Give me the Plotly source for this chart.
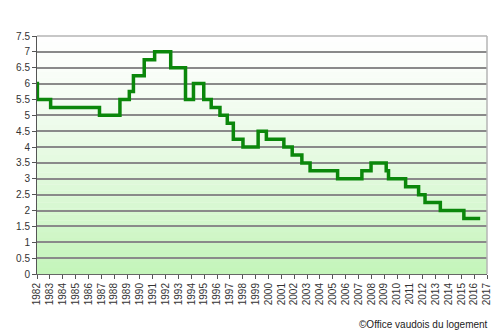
import plotly.graph_objects as go

# Step dates (decimal years) and rate values (%)
dates = [1982.0, 1982.03, 1983.06, 1986.86, 1988.45, 1989.18, 1989.5, 1990.34,
         1991.15, 1992.4, 1993.55, 1994.17, 1994.97, 1995.55, 1996.23, 1996.8,
         1997.27, 1998.02, 1999.2, 1999.84, 2001.2, 2001.85, 2002.6, 2003.24,
         2005.38, 2007.27, 2007.98, 2009.16, 2009.34, 2010.67, 2011.68, 2012.18,
         2013.37, 2015.2, 2016.47]
rates = [6.0, 5.5, 5.25, 5.0, 5.5, 5.75, 6.25, 6.75,
         7.0, 6.5, 5.5, 6.0, 5.5, 5.25, 5.0, 4.75,
         4.25, 4.0, 4.5, 4.25, 4.0, 3.75, 3.5, 3.25,
         3.0, 3.25, 3.5, 3.25, 3.0, 2.75, 2.5, 2.25,
         2.0, 1.75, 1.75]
year_ticks = list(range(1982, 2018))
y_ticks = [i * 0.5 for i in range(16)]
credit = "©Office vaudois du logement"

fig = go.Figure()
fig.add_trace(go.Scatter(x=dates, y=rates, mode="lines", line_shape="hv",
                         line=dict(color="#0b870b", width=3.5), hoverinfo="skip"))

# gradient background bands
shapes = []
n = 40
for i in range(n):
    t = i / n  # 0 at bottom
    f = (1 - t) ** 1.3
    r = int(255 - 58 * f)
    g = int(255 - 10 * f)
    b = int(255 - 68 * f)
    shapes.append(dict(type="rect", xref="x domain", yref="y domain",
                       x0=0, x1=1, y0=t, y1=t + 1 / n + 0.001,
                       fillcolor=f"rgb({r},{g},{b})", line=dict(width=0),
                       layer="below"))
shapes.append(dict(type="line", xref="x domain", yref="y domain", x0=1, x1=1,
                   y0=0, y1=1, line=dict(color="#b4b4b4", width=1.5)))
shapes.append(dict(type="line", xref="x domain", yref="y domain", x0=0, x1=1,
                   y0=1, y1=1, line=dict(color="#b4b4b4", width=1.5)))

fig.update_layout(
    width=492, height=326,
    margin=dict(l=21, r=8, t=28, b=60),
    paper_bgcolor="white", plot_bgcolor="white",
    showlegend=False,
    shapes=shapes,
    font=dict(family="Liberation Sans, Arial, sans-serif", size=10, color="#333333"),
    annotations=[dict(text=credit, xref="paper", yref="paper", x=1.0065, y=-0.214,
                      xanchor="right", yanchor="middle", showarrow=False,
                      font=dict(size=10, color="#222222"))],
)
fig.update_xaxes(range=[1982, 2017], tickvals=year_ticks,
                 ticktext=[str(y) for y in year_ticks], tickangle=-90,
                 showgrid=False, zeroline=False, showline=True,
                 linecolor="#666666", linewidth=1, ticks="outside",
                 ticklen=4, tickcolor="#555555", tickfont=dict(size=10))
fig.update_yaxes(range=[0, 7.5], tickvals=y_ticks,
                 ticktext=[("%g" % v) for v in y_ticks],
                 showgrid=True, gridcolor="#8a8a8a", gridwidth=2,
                 zeroline=False, showline=True, linecolor="#555555", linewidth=1,
                 ticks="outside", ticklen=4, tickcolor="#555555",
                 tickfont=dict(size=10))

fig.write_html("out.html")
